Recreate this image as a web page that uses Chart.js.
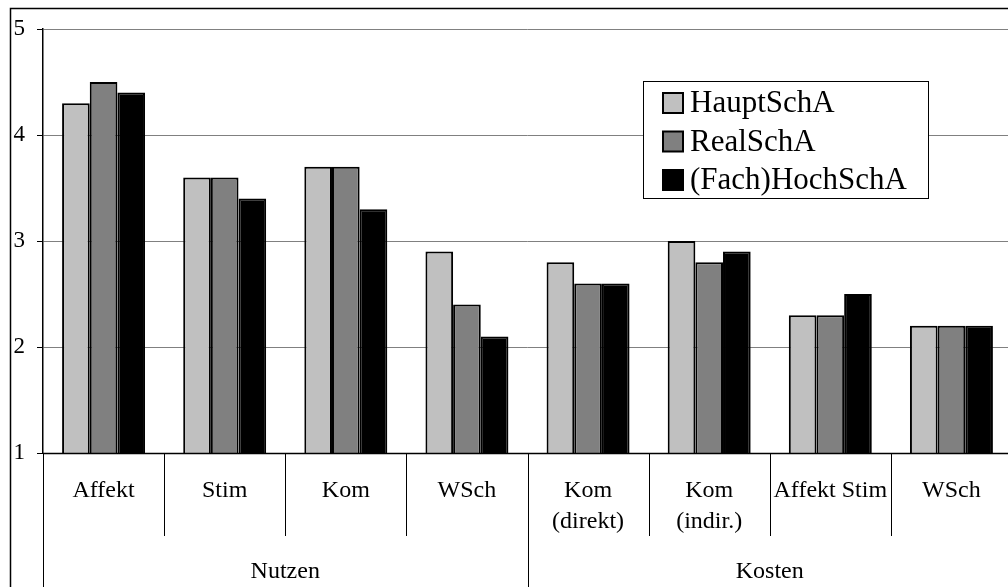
<!DOCTYPE html>
<html>
<head>
<meta charset="utf-8">
<script src="https://cdn.jsdelivr.net/npm/chart.js@4"></script>
<style>
  html, body { margin: 0; padding: 0; overflow: hidden; background: #fff; }
  #grafica { display: block; }
</style>
</head>
<body>
<canvas id="grafica" width="1030" height="600"></canvas>
<script>
// Kategorien (mehrzeilige Beschriftungen)
const kategorien = [
  ["Affekt"], ["Stim"], ["Kom"], ["WSch"],
  ["Kom", "(direkt)"], ["Kom", "(indir.)"], ["Affekt Stim"], ["WSch"]
];
// Obergruppen und wie viele Kategorien dazu gehoeren
const gruppen = ["Nutzen", "Kosten"];
const gruppenGroesse = [4, 4];

const serien = ["HauptSchA", "RealSchA", "(Fach)HochSchA"];
const hauptSchA = [4.3, 3.6, 3.7, 2.9, 2.8, 3.0, 2.3, 2.2];
const realSchA  = [4.5, 3.6, 3.7, 2.4, 2.6, 2.8, 2.3, 2.2];
const hochSchA  = [4.4, 3.4, 3.3, 2.1, 2.6, 2.9, 2.5, 2.2];
const farben = ["#c0c0c0", "#808080", "#000000"];

const yTicks = [1, 2, 3, 4, 5];

const schrift = "'Liberation Serif', 'Times New Roman', serif";

// Achsenbeschriftung, Trennlinien, Legende und Rahmen von Hand
const extras = {
  id: "extras",
  afterDatasetsDraw(chart) {
    const ctx = chart.ctx;
    const area = chart.chartArea;
    const x = chart.scales.x;
    const n = kategorien.length;
    const breite = (area.right - area.left) / n;

    ctx.save();
    // x-Achse
    ctx.strokeStyle = "#000";
    ctx.lineWidth = 1.5;
    ctx.beginPath();
    ctx.moveTo(area.left, area.bottom + 0.5);
    ctx.lineTo(area.right, area.bottom + 0.5);
    ctx.stroke();

    // Kategorie-Trennlinien und Beschriftung
    ctx.lineWidth = 1;
    ctx.fillStyle = "#000";
    ctx.font = "24px " + schrift;
    ctx.textAlign = "center";
    ctx.textBaseline = "alphabetic";
    for (let i = 0; i < n; i++) {
      const mitte = x.getPixelForValue(i);
      const links = Math.round(mitte - breite / 2) + 0.5;
      ctx.beginPath();
      ctx.moveTo(links, area.bottom);
      ctx.lineTo(links, area.bottom + 83);
      ctx.stroke();
      kategorien[i].forEach((zeile, j) => {
        ctx.fillText(zeile, mitte, area.bottom + 44 + j * 31);
      });
    }

    // Gruppen
    let start = 0;
    gruppen.forEach((g, k) => {
      const l = area.left + start * breite;
      const r = l + gruppenGroesse[k] * breite;
      ctx.beginPath();
      ctx.moveTo(Math.round(l) + 0.5, area.bottom);
      ctx.lineTo(Math.round(l) + 0.5, chart.height);
      ctx.moveTo(Math.round(r) + 0.5, area.bottom);
      ctx.lineTo(Math.round(r) + 0.5, chart.height);
      ctx.stroke();
      ctx.fillText(g, (l + r) / 2, area.bottom + 125);
      start += gruppenGroesse[k];
    });

    // Legende
    const lx = 643, ly = 81, lw = 285, lh = 117;
    ctx.fillStyle = "#fff";
    ctx.fillRect(lx, ly, lw, lh);
    ctx.strokeStyle = "#000";
    ctx.lineWidth = 1;
    ctx.strokeRect(lx + 0.5, ly + 0.5, lw, lh);
    ctx.font = "31px " + schrift;
    ctx.textAlign = "left";
    ctx.textBaseline = "middle";
    chart.data.datasets.forEach((ds, i) => {
      const cy = 103 + i * 38.5;
      ctx.fillStyle = ds.backgroundColor;
      ctx.fillRect(663, cy - 10, 20, 20);
      ctx.lineWidth = 2;
      ctx.strokeStyle = "#000";
      ctx.strokeRect(663, cy - 10, 20, 20);
      ctx.fillStyle = "#000";
      ctx.fillText(ds.label, 690, cy + 1);
    });

    // Aeusserer Rahmen
    ctx.strokeStyle = "#000";
    ctx.lineWidth = 1.5;
    ctx.beginPath();
    ctx.moveTo(10.5, chart.height);
    ctx.lineTo(10.5, 8.5);
    ctx.lineTo(chart.width, 8.5);
    ctx.stroke();
    ctx.restore();
  }
};

const datensaetze = [hauptSchA, realSchA, hochSchA].map((werte, i) => ({
  label: serien[i],
  data: werte,
  backgroundColor: farben[i],
  borderColor: "#000",
  borderWidth: 2,
  borderSkipped: false
}));

new Chart(document.getElementById("grafica"), {
  type: "bar",
  data: {
    labels: kategorien.map(k => k.join(" ")),
    datasets: datensaetze
  },
  options: {
    responsive: false,
    animation: false,
    devicePixelRatio: 1,
    layout: { padding: { left: 0, top: 29, right: 18, bottom: 147 } },
    datasets: { bar: { categoryPercentage: 0.685, barPercentage: 1 } },
    plugins: {
      legend: { display: false },
      tooltip: { enabled: false }
    },
    scales: {
      x: { display: false },
      y: {
        min: 1,
        max: 5,
        afterFit(scale) { scale.width = 43; },
        afterBuildTicks(scale) { scale.ticks = yTicks.map(v => ({ value: v })); },
        ticks: {
          padding: 12,
          color: "#000",
          font: { family: schrift, size: 23 }
        },
        grid: { color: "#808080", tickColor: "#000", tickLength: 6, lineWidth: 1 },
        border: { color: "#000", width: 1.5 }
      }
    }
  },
  plugins: [extras]
});
</script>
</body>
</html>
